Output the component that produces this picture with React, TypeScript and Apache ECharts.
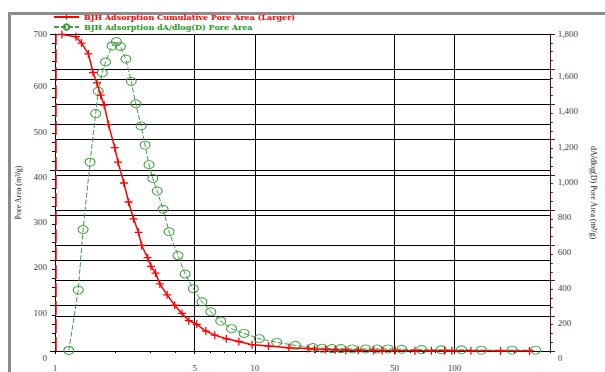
import React, { useEffect, useRef } from "react";
import * as echarts from "echarts";

// ---- Data ----
const cumDiameter = [1.083, 1.273, 1.357, 1.469, 1.55, 1.622, 1.692, 1.763, 1.853, 1.991, 2.067, 2.213, 2.335, 2.472, 2.617, 2.716, 2.908, 3.023, 3.186, 3.35, 3.64, 3.973, 4.318, 4.675, 5.121, 5.692, 6.306, 7.205, 8.326, 9.687, 11.71, 14.81, 18.47, 19.91, 22.56, 25.28, 28.56, 33.0, 39.41, 43.37, 50.45, 63.37, 76.6, 89.1, 96.9, 120.8, 169.9, 237.3];
const cumArea = [699, 694, 680, 656, 615, 592, 565, 543, 500, 449, 417, 371, 329, 292, 262, 233, 206, 187, 172, 148, 124, 101, 83, 67, 59, 44, 35, 27, 21, 14, 11, 7, 5.5, 4, 3.3, 2.6, 1.8, 1.8, 1.1, 1.0, 0.9, 0.7, 0.5, 0.4, 0.4, 0.3, 0.2, 0.1];

const difDiameter = [1.173, 1.307, 1.383, 1.498, 1.598, 1.646, 1.723, 1.791, 1.931, 2.03, 2.125, 2.264, 2.408, 2.537, 2.698, 2.824, 2.955, 3.087, 3.248, 3.477, 3.724, 4.125, 4.482, 4.932, 5.439, 6.026, 6.752, 7.652, 8.843, 10.53, 12.88, 15.98, 19.55, 21.74, 24.36, 26.98, 30.83, 35.86, 40.99, 46.44, 54.45, 68.39, 85.85, 108.5, 136.3, 194.0, 254.9];
const difArea = [3, 346, 690, 1072, 1348, 1475, 1579, 1641, 1732, 1757, 1729, 1658, 1531, 1404, 1278, 1169, 1058, 980, 908, 805, 677, 542, 437, 354, 279, 223, 170, 127, 100, 70, 49, 32, 20, 16, 14, 14, 12, 12, 12, 12, 10, 8, 7, 7, 5, 5, 5];

const xMajorTicks = [1, 5, 10, 50, 100];
const xMinorTicks = [2, 3, 4, 6, 7, 8, 9, 20, 30, 40, 60, 70, 80, 90, 200, 300];

const seriesNames = [
  "BJH Adsorption Cumulative Pore Area (Larger)",
  "BJH Adsorption dA/dlog(D) Pore Area",
];
const leftAxisName = "Pore Area (m²/g)";
const rightAxisName = "dA/dlog(D) Pore Area (m²/g)";

const FONT = "'Liberation Serif', 'Times New Roman', serif";
const LEGEND_FONT = "'DejaVu Serif', serif";
const RED = "#ff0000";
const GREEN = "#3f9f3f";
const PLUS = "path://M4.2,0H5.8V4.2H10V5.8H5.8V10H4.2V5.8H0V4.2H4.2Z";

export default function App() {
  const ref = useRef<HTMLDivElement>(null);

  useEffect(() => {
    if (!ref.current) return;
    const chart = echarts.init(ref.current, undefined, { renderer: "svg" });

    const labelFont = { fontFamily: FONT, fontSize: 9, color: "#444" };

    const option: any = {
      animation: false,
      backgroundColor: "#ffffff",
      graphic: [
        { type: "rect", shape: { x: 8, y: 12, width: 597, height: 3 }, style: { fill: "#8c8c8c" }, silent: true },
        { type: "rect", shape: { x: 8, y: 12, width: 3, height: 360 }, style: { fill: "#8c8c8c" }, silent: true },
      ],
      legend: [
        {
          data: [seriesNames[0]],
          left: 53,
          top: 13,
          itemWidth: 25,
          itemHeight: 7,
          padding: 0,
          textStyle: { fontFamily: LEGEND_FONT, fontSize: 8, fontWeight: "bold", color: RED, lineHeight: 8 },
        },
        {
          data: [seriesNames[1]],
          left: 53,
          top: 23,
          itemWidth: 25,
          itemHeight: 7,
          padding: 0,
          textStyle: { fontFamily: LEGEND_FONT, fontSize: 8, fontWeight: "bold", color: "#1f9a1f", lineHeight: 8 },
        },
      ],
      grid: { left: 55, right: 48, top: 34, bottom: 18 },
      xAxis: [
        {
          type: "log",
          logBase: 10,
          min: 1,
          max: 300,
          axisLine: { show: true, lineStyle: { color: "#000", width: 1 } },
          axisTick: { show: true, length: 3, customValues: xMajorTicks, lineStyle: { color: "#000" } },
          axisLabel: {
            customValues: xMajorTicks,
            margin: 12,
            formatter: (v: number) => String(Math.round(v)),
            ...labelFont,
          },
          splitLine: { show: true, lineStyle: { color: "#000", width: 1 } },
          minorTick: { show: false },
        },
        {
          type: "log",
          logBase: 10,
          min: 1,
          max: 300,
          position: "bottom",
          axisLine: { show: false },
          axisTick: { show: true, length: 2, customValues: xMinorTicks, lineStyle: { color: "#000" } },
          axisLabel: { show: false },
          splitLine: { show: false },
        },
      ],
      yAxis: [
        {
          type: "value",
          min: 0,
          max: 700,
          interval: 100,
          name: leftAxisName,
          nameLocation: "middle",
          nameGap: 32,
          nameTextStyle: { fontFamily: FONT, fontSize: 8, color: "#222" },
          axisLine: { show: true, lineStyle: { color: "#000", width: 1 } },
          axisTick: { show: true, length: 5, lineStyle: { color: "#000" } },
          minorTick: { show: true, splitNumber: 5, length: 3, lineStyle: { color: "#000" } },
          axisLabel: {
            margin: 8,
            formatter: (v: number) => (v === 700 ? `{t|${v}}` : `{s|${v}}`),
            rich: {
              t: { ...labelFont },
              s: { ...labelFont, padding: [14, 0, 0, 0] },
            },
          },
          splitLine: { show: true, lineStyle: { color: "#000", width: 1 } },
        },
        {
          type: "value",
          min: 0,
          max: 1800,
          interval: 200,
          position: "right",
          name: rightAxisName,
          nameLocation: "middle",
          nameGap: 30,
          nameRotate: -90,
          nameTextStyle: { fontFamily: FONT, fontSize: 8, color: "#222" },
          axisLine: { show: true, lineStyle: { color: "#4a1515", width: 1 } },
          axisTick: { show: true, length: 5, lineStyle: { color: "#4a1515" } },
          minorTick: { show: true, splitNumber: 4, length: 3, lineStyle: { color: "#4a1515" } },
          axisLabel: {
            margin: 8,
            formatter: (v: number) => {
              const s = v.toLocaleString("en-US");
              return v === 1800 ? `{t|${s}}` : `{s|${s}}`;
            },
            rich: {
              t: { ...labelFont },
              s: { ...labelFont, padding: [14, 0, 0, 0] },
            },
          },
          splitLine: { show: true, lineStyle: { color: "#000", width: 1 } },
        },
      ],
      series: [
        {
          name: seriesNames[1],
          type: "line",
          xAxisIndex: 0,
          yAxisIndex: 1,
          data: difDiameter.map((d, i) => [d, difArea[i]]),
          symbol: "circle",
          symbolSize: [10, 8],
          itemStyle: { color: "rgba(255,255,255,0)", borderColor: GREEN, borderWidth: 1 },
          lineStyle: { color: GREEN, width: 1, type: [5, 2] },
          z: 3,
        },
        {
          name: seriesNames[0],
          type: "line",
          xAxisIndex: 0,
          yAxisIndex: 0,
          data: cumDiameter.map((d, i) => [d, cumArea[i]]),
          symbol: PLUS,
          symbolSize: 8,
          itemStyle: { color: RED },
          lineStyle: { color: RED, width: 1.5 },
          z: 4,
          markLine: {
            silent: true,
            symbol: ["none", "none"],
            label: { show: false },
            lineStyle: { color: RED, width: 1.5, type: [14, 4] },
            data: [{ xAxis: 1.012 }],
          },
        },
      ],
    };

    chart.setOption(option);
    return () => chart.dispose();
  }, []);

  return (
    <div
      ref={ref}
      style={{ position: "fixed", left: 0, top: 0, width: 605, height: 372, background: "#fff" }}
    />
  );
}
